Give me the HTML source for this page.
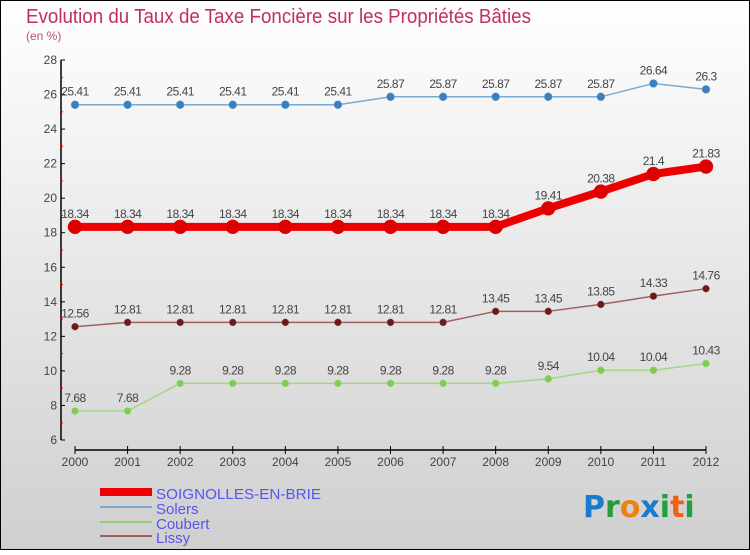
<!DOCTYPE html>
<html><head><meta charset="utf-8"><style>
body{margin:0;width:750px;height:550px;overflow:hidden;font-family:"Liberation Sans",sans-serif}
</style></head><body>
<svg id="c" width="750" height="550" xmlns="http://www.w3.org/2000/svg">
<defs><linearGradient id="bg" x1="0" y1="0" x2="0" y2="1"><stop offset="0" stop-color="#ffffff"/><stop offset="1" stop-color="#cfcfcf"/></linearGradient></defs>
<rect x="0.5" y="0.5" width="749" height="549" fill="url(#bg)" stroke="#000"/>
<text x="26" y="23" font-size="20" fill="#c0305a" textLength="505" lengthAdjust="spacingAndGlyphs">Evolution du Taux de Taxe Foncière sur les Propriétés Bâties</text>
<text x="26" y="40" font-size="12" fill="#c0507a">(en %)</text>
<g id="axes"></g><g id="series"></g>
<g>
<rect x="100" y="488" width="52" height="8" fill="#e00"/>
<text x="156" y="499" font-size="15" fill="#5555ee" textLength="165" lengthAdjust="spacingAndGlyphs">SOIGNOLLES-EN-BRIE</text>
<rect x="100" y="506" width="52" height="2" fill="#7aaad0"/>
<text x="156" y="514" font-size="15" fill="#5555ee">Solers</text>
<rect x="100" y="521" width="52" height="2" fill="#90d070"/>
<text x="156" y="529" font-size="15" fill="#5555ee">Coubert</text>
<rect x="100" y="535" width="52" height="2" fill="#a06060"/>
<text x="156" y="543" font-size="15" fill="#5555ee">Lissy</text>
</g>
<text x="583" y="517" font-size="30" font-weight="bold" font-family="DejaVu Sans, sans-serif"><tspan fill="#1a7acc">P</tspan><tspan fill="#2a9a3a">r</tspan><tspan fill="#f08010">o</tspan><tspan fill="#1a7acc">x</tspan><tspan fill="#20a040">i</tspan><tspan fill="#f06010">t</tspan><tspan fill="#20a040">i</tspan></text>
</svg>
<script>
const years=["2000","2001","2002","2003","2004","2005","2006","2007","2008","2009","2010","2011","2012"];
const yTicks=[6,8,10,12,14,16,18,20,22,24,26,28];
const soignolles=[18.34,18.34,18.34,18.34,18.34,18.34,18.34,18.34,18.34,19.41,20.38,21.4,21.83];
const solers=[25.41,25.41,25.41,25.41,25.41,25.41,25.87,25.87,25.87,25.87,25.87,26.64,26.3];
const coubert=[7.68,7.68,9.28,9.28,9.28,9.28,9.28,9.28,9.28,9.54,10.04,10.04,10.43];
const lissy=[12.56,12.81,12.81,12.81,12.81,12.81,12.81,12.81,13.45,13.45,13.85,14.33,14.76];
const NS="http://www.w3.org/2000/svg";
const x=i=>75+i*(706-75)/(years.length-1);
const y=v=>440-(v-6)*(380/22);
function mk(t,a,p){const e=document.createElementNS(NS,t);for(const k in a)e.setAttribute(k,a[k]);p.appendChild(e);return e;}
const ax=document.getElementById('axes');
let e=mk('line',{x1:61,y1:60,x2:61,y2:440,stroke:'#000','stroke-width':1.5},ax);


yTicks.forEach(t=>{mk('line',{x1:61,y1:y(t),x2:65,y2:y(t),stroke:'#000'},ax);
 if(t<28)mk('line',{x1:60,y1:y(t+1),x2:63,y2:y(t+1),stroke:'#e00'},ax);
 const l=mk('text',{x:57,y:y(t)+4,'font-size':12,fill:'#444','text-anchor':'end'},ax);l.textContent=t;
 
 });
e=mk('line',{x1:75,y1:450,x2:706,y2:450,stroke:'#000','stroke-width':1.5},ax);


years.forEach((yr,i)=>{mk('line',{x1:x(i),y1:446,x2:x(i),y2:454,stroke:'#000'},ax);
 const l=mk('text',{x:x(i),y:466,'font-size':12,fill:'#444','text-anchor':'middle'},ax);l.textContent=yr;
 
 });
const sg=document.getElementById('series');
function series(name,vals,color,w,r,dot){
 const g=mk('g',{},sg);
 
 
 mk('polyline',{points:vals.map((v,i)=>x(i)+','+y(v)).join(' '),fill:'none',stroke:color,'stroke-width':w,'stroke-linejoin':'round'},g);
 vals.forEach((v,i)=>{const c=mk('circle',{cx:x(i),cy:y(v),r:r,fill:dot,stroke:color,'stroke-width':0.5},g);
  
  
  const t=mk('text',{x:x(i),y:y(v)-9,'font-size':12,fill:'#444','text-anchor':'middle','letter-spacing':'-0.5'},g);t.textContent=v;
  
  });
}
series('solers',solers,'#7aaad0',1.5,4,'#3a80c0');
series('lissy',lissy,'#a06060',1.5,3.5,'#6a1a1a');
series('coubert',coubert,'#a0d888',1.5,3.5,'#80cc50');
series('soignolles',soignolles,'#ee0000',8,7,'#dd0000');
</script>
</body></html>
